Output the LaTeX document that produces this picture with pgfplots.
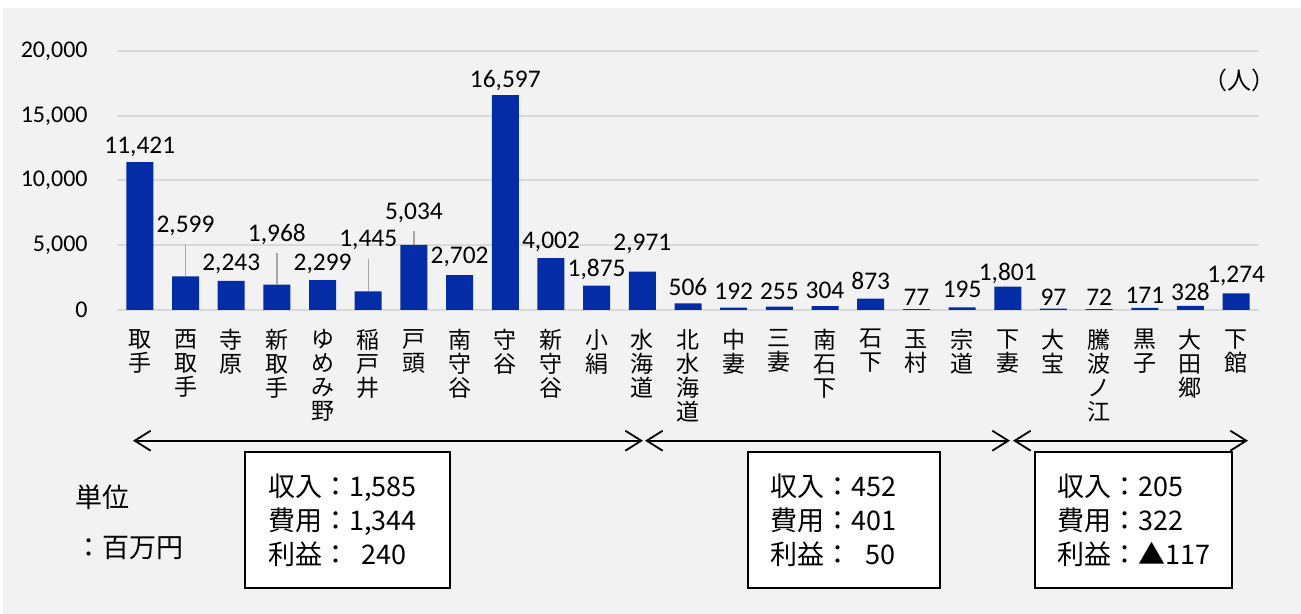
\documentclass[border=0pt]{standalone}
\usepackage{fontspec}
\setmainfont{Carlito}
\newfontfamily\jp{Noto Sans CJK JP}
\usepackage{pgfplots}
\pgfplotsset{compat=1.18}
\usepackage{pgfplotstable}
\usetikzlibrary{arrows.meta}
\definecolor{bg}{HTML}{F2F2F2}
\definecolor{barblue}{HTML}{032CA6}
\definecolor{gridc}{HTML}{D9D9D9}
\definecolor{leader}{HTML}{A6A6A6}

\pgfplotstableread{
x y ly lab
0 11421 12611 11,421
1 2599 6487 2,599
2 2243 3552 2,243
3 1968 5869 1,968
4 2299 3552 2,299
5 1445 5405 1,445
6 5034 7490 5,034
7 2702 4093 2,702
8 16597 17683 16,597
9 4002 5251 4,002
10 1875 3166 1,875
11 2971 5097 2,971
12 506 1776 506
13 192 1467 192
14 255 1467 255
15 304 1544 304
16 873 2239 873
17 77 1004 77
18 195 1622 195
19 1801 2857 1,801
20 97 1004 97
21 72 1004 72
22 171 1158 171
23 328 1390 328
24 1274 2625 1,274
}\data

\begin{document}
\begin{tikzpicture}
\useasboundingbox (0,0) rectangle (650.5bp,307bp);
\fill[white] (0,0) rectangle (650.5bp,307bp);
\fill[bg] (1.5bp,0) rectangle (650.5bp,303bp);
\begin{axis}[
  at={(58.5bp,152bp)}, anchor=south west,
  scale only axis, width=571bp, height=129.5bp,
  xmin=-0.5, xmax=24.5, ymin=0, ymax=20000,
  axis line style={draw=none},
  ymajorgrids, grid style={gridc, line width=1bp},
  ytick={0,5000,10000,15000,20000},
  scaled y ticks=false,
  xtick={0,...,24},
  xticklabels={{取\\手},{西\\取\\手},{寺\\原},{新\\取\\手},{ゆ\\め\\み\\野},{稲\\戸\\井},{戸\\頭},{南\\守\\谷},{守\\谷},{新\\守\\谷},{小\\絹},{水\\海\\道},{北\\水\\海\\道},{中\\妻},{三\\妻},{南\\石\\下},{石\\下},{玉\\村},{宗\\道},{下\\妻},{大\\宝},{騰\\波\\ノ\\江},{黒\\子},{大\\田\\郷},{下\\館}},
  major tick length=0pt,
  tick style={draw=none},
  xticklabel style={font=\jp\fontsize{11.5bp}{12bp}\selectfont, align=center, anchor=north, inner sep=0pt, yshift=-9.5bp},
  yticklabel style={font=\fontsize{12bp}{14bp}\selectfont, inner sep=0pt, anchor=east, xshift=-14.5bp},
  /pgf/number format/.cd, 1000 sep={,}, assume math mode=true,
  /pgfplots/.cd,
  clip=false,
]
\addplot[ybar, bar width=13.5bp, fill=barblue, draw=none] table[x=x,y=y]{\data};
\addplot[leader, line width=0.7bp] coordinates {(1,2599) (1,5097)};
\addplot[leader, line width=0.7bp] coordinates {(3,1968) (3,4402)};
\addplot[leader, line width=0.7bp] coordinates {(5,1445) (5,3938)};
\addplot[leader, line width=0.7bp] coordinates {(6,5034) (6,6100)};
\addplot[draw=none, mark=none, nodes near coords, point meta=explicit symbolic,
  nodes near coords style={anchor=center, font=\fontsize{12.7bp}{15bp}\selectfont, inner sep=0pt, text=black}]
  table[x=x,y=ly,meta=lab]{\data};
\end{axis}
\tikzset{dblarr/.style={line width=0.9bp, {Straight Barb[length=8bp,width=10bp]}-{Straight Barb[length=8bp,width=10bp]}}}
\draw[dblarr] (66.5bp,86.65bp) -- (321.5bp,86.65bp);
\draw[dblarr] (322.5bp,86.65bp) -- (505bp,86.65bp);
\draw[dblarr] (506.5bp,86.65bp) -- (624bp,86.65bp);
\draw[line width=1.3bp, fill=white] (122.5bp,13bp) rectangle (225bp,81bp);
\draw[line width=1.3bp, fill=white] (374bp,13bp) rectangle (470bp,81bp);
\draw[line width=1.3bp, fill=white] (517.5bp,13bp) rectangle (616bp,81bp);
\tikzset{boxtxt/.style={anchor=west, align=left, inner sep=0pt, font=\jp\fontsize{13.5bp}{17bp}\selectfont}}
\node[boxtxt] at (134bp,47bp) {収入：1,585\\費用：1,344\\利益：\hspace{6bp}240};
\node[boxtxt] at (385bp,47bp) {収入：452\\費用：401\\利益：\hspace{7bp}50};
\node[boxtxt] at (528.5bp,47bp) {収入：205\\費用：322\\利益：▲117};
\node[anchor=west, inner sep=0pt, font=\jp\fontsize{13.5bp}{17bp}\selectfont] at (37.5bp,58.5bp) {単位};
\node[anchor=west, inner sep=0pt, font=\jp\fontsize{13.5bp}{17bp}\selectfont] at (37.5bp,33bp) {：百万円};
\node[inner sep=0pt, font=\jp\fontsize{12bp}{14bp}\selectfont] at (619.5bp,267bp) {（人）};
\end{tikzpicture}
\end{document}
